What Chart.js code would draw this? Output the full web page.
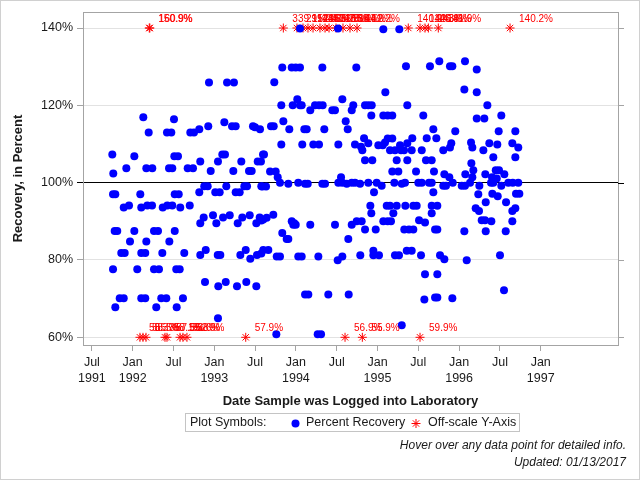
<!DOCTYPE html>
<html>
<head>
<meta charset="utf-8">
<script src="https://cdn.jsdelivr.net/npm/chart.js@4/dist/chart.umd.min.js"></script>
<style>
  html, body { margin: 0; padding: 0; background: #fff; }
  #c { display: block; }
</style>
</head>
<body>
<canvas id="c" width="640" height="480"></canvas>
<script>
// ---- Data (dates as decimal years, recovery in percent) ----
const sampleDates = [
  1992.935,1993.156,1993.241,1992.130,1992.506,1992.196,1992.420,1992.473,1992.706,1992.751,
  1992.816,1992.926,1993.123,1993.217,1993.262,1993.474,1993.560,1991.750,1992.020,1991.762,
  1991.922,1992.167,1992.240,1992.445,1992.485,1992.674,1992.739,1992.510,1992.555,1992.828,
  1992.956,1993.045,1993.098,1993.131,1993.233,1993.331,1993.425,1993.458,1993.532,1993.572,
  1993.597,1991.759,1991.787,1992.093,1992.515,1992.564,1992.816,1992.877,1992.919,1993.012,
  1993.066,1993.147,1993.262,1993.311,1993.368,1993.401,1993.576,1991.890,1991.955,1992.105,
  1992.179,1992.237,1992.368,1992.424,1992.485,1992.583,1992.699,1992.870,1992.984,1993.107,
  1993.189,1993.343,1993.434,1993.556,1992.828,1993.025,1993.287,1993.515,1993.576,1991.779,
  1991.811,1992.020,1992.261,1992.310,1992.515,1991.967,1992.167,1992.449,1991.860,1991.902,
  1992.105,1992.154,1992.363,1992.632,1992.828,1992.895,1993.042,1993.074,1993.319,1993.385,
  1993.441,1993.523,1993.576,1991.759,1992.056,1992.261,1992.322,1992.534,1992.576,1992.886,
  1993.049,1993.140,1993.278,1993.392,1993.515,1991.841,1991.890,1992.105,1992.154,1992.350,
  1992.412,1992.616,1991.787,1992.289,1992.539,1993.045,
  1993.833,1993.949,1993.998,1994.050,1994.324,1994.740,1995.349,1995.643,1993.735,1995.096,
  1994.017,1993.821,1993.961,1994.050,1994.071,1994.234,1994.283,1994.328,1994.176,1994.446,
  1994.479,1994.569,1994.703,1994.684,1994.847,1994.887,1994.929,1995.365,1994.924,1995.071,
  1995.125,1995.181,1995.561,1993.846,1994.610,1994.635,1993.499,1993.695,1993.728,1993.919,
  1994.103,1994.132,1994.348,1995.684,1993.821,1994.078,1994.213,1994.283,1994.520,1994.724,
  1994.835,1994.887,1994.798,1994.814,1995.010,1995.064,1995.092,1995.125,1995.181,1995.153,
  1995.214,1995.276,1995.288,1995.325,1995.365,1995.426,1995.419,1995.542,1995.603,1993.609,
  1994.847,1994.936,1995.235,1995.365,1995.594,1995.664,1993.683,1993.752,1993.777,1995.181,
  1995.255,1995.472,1995.692,1993.588,1993.634,1993.805,1993.907,1994.029,1994.112,1994.145,
  1994.324,1994.357,1994.553,1994.520,1994.569,1994.623,1994.684,1994.724,1994.786,1994.887,
  1994.990,1995.051,1994.957,1995.206,1995.297,1995.337,1995.500,1995.542,1995.631,1995.664,
  1995.684,1994.912,1995.113,1995.153,1995.235,1995.341,1995.439,1995.480,1995.664,1994.924,
  1995.194,1995.664,1993.723,1993.642,1993.600,1993.949,1993.980,1993.998,1993.968,1994.176,
  1994.479,1994.684,1994.745,1994.806,1994.847,1994.978,1995.071,1995.125,1995.165,1995.328,
  1995.386,1995.439,1995.509,1995.582,1995.705,1993.833,1993.887,1993.907,1994.642,1993.662,
  1993.600,1993.765,1993.805,1994.029,1994.071,1994.275,1994.512,1994.569,1994.789,1994.949,
  1994.949,1995.018,1995.214,1995.263,1995.358,1995.419,1995.533,1995.582,1994.112,1994.152,
  1994.397,1994.647,1995.574,1995.705,1993.760,1994.267,1994.308,1995.297,
  1995.757,1996.072,1995.888,1995.917,1996.216,1996.064,1996.216,1996.346,1996.517,1996.216,
  1996.309,1995.953,1996.485,1996.689,1995.721,1995.904,1995.888,1995.806,1996.146,1996.162,
  1996.297,1996.370,1996.468,1996.652,1996.725,1996.419,1996.689,1996.150,1995.819,1995.880,
  1995.922,1996.076,1996.174,1996.162,1996.321,1996.449,1996.489,1996.403,1996.461,1996.554,
  1995.806,1995.839,1996.032,1996.072,1996.134,1996.248,1996.391,1996.419,1996.517,1996.603,
  1996.657,1996.725,1996.235,1996.407,1996.473,1996.697,1996.738,1995.733,1996.326,1996.575,
  1996.203,1996.244,1996.652,1996.689,1996.277,1996.317,1996.395,1996.652,1995.733,1996.064,
  1996.326,1996.571,1995.766,1995.819,1996.093,1996.501,1995.733,1996.550,1995.733,1995.917,
  1994.050,1994.516,1995.071,1995.267
];
const recoveryPct = [
  125.9,125.9,125.9,116.9,116.4,113.0,113.0,113.0,113.0,113.0,
  113.8,114.6,115.6,114.6,114.6,114.6,113.8,107.3,106.8,102.4,
  103.7,103.7,103.7,103.7,103.7,103.7,103.7,106.8,106.8,105.5,
  103.0,105.5,107.3,107.3,103.0,105.5,103.0,103.0,105.5,105.5,
  107.3,97.0,97.0,97.0,97.0,97.0,97.5,99.1,99.1,97.5,
  97.5,99.1,97.5,97.5,99.1,99.1,99.1,93.6,94.1,93.6,
  94.1,94.1,93.6,94.1,94.1,93.6,94.1,91.0,91.6,91.0,
  91.6,91.0,91.6,91.0,89.5,89.5,89.5,89.5,90.2,87.5,
  87.5,87.5,87.5,87.5,87.5,84.8,84.8,84.8,81.8,81.8,
  81.8,81.8,81.8,81.8,81.3,82.6,81.3,81.3,81.3,82.6,
  80.3,81.3,81.7,77.6,77.6,77.6,77.6,77.6,77.6,74.3,
  73.2,74.3,73.2,74.3,73.2,70.1,70.1,70.1,70.1,70.1,
  70.1,70.1,67.8,67.8,67.8,64.9,
  129.8,129.8,129.8,129.8,129.8,129.8,130.1,130.1,126.0,123.4,
  121.6,120.0,120.0,120.0,120.0,120.0,120.0,120.0,118.7,118.7,
  118.7,121.6,120.0,118.7,120.0,120.0,120.0,120.0,117.4,117.4,
  117.4,117.4,117.4,115.9,115.9,113.8,114.3,114.6,114.6,113.8,
  113.8,113.8,113.8,113.8,109.9,109.9,109.9,109.9,109.9,109.9,
  111.5,110.2,109.3,108.4,109.7,109.7,110.4,111.4,111.4,108.4,
  108.4,109.7,108.4,108.4,110.2,111.5,108.4,108.4,111.5,107.3,
  105.8,105.8,105.8,105.8,105.8,105.8,102.9,102.9,101.4,102.9,
  102.9,102.9,102.9,99.0,99.0,100.0,99.7,100.0,99.7,99.7,
  99.7,99.7,101.4,100.0,100.0,99.7,100.0,100.0,99.7,100.0,
  100.0,99.2,97.5,100.0,99.7,100.0,100.0,100.0,100.0,100.0,
  97.5,94.0,94.0,94.0,94.0,94.0,94.0,94.0,94.0,92.1,
  92.1,92.1,91.7,90.9,90.5,90.0,89.5,89.1,89.1,89.1,
  89.1,89.1,90.0,90.0,87.9,87.9,90.0,90.0,90.0,87.9,
  87.9,87.9,90.3,89.7,87.9,87.0,85.4,85.4,85.4,82.6,
  82.6,80.9,80.9,80.9,80.9,80.9,79.9,80.9,81.2,82.4,
  81.2,81.2,81.2,81.2,82.4,82.4,81.2,76.3,71.1,71.1,
  71.1,71.1,69.8,70.3,60.8,60.8,60.8,63.1,
  131.4,131.4,130.1,130.1,129.3,124.1,123.4,120.0,117.4,116.6,
  116.6,113.3,113.3,113.3,111.5,110.2,109.1,108.4,110.4,109.1,
  108.4,110.2,109.9,110.2,109.1,106.6,106.6,105.0,102.2,101.4,
  100.0,102.2,103.2,101.4,102.2,103.2,103.2,101.4,101.1,102.2,
  99.2,99.2,99.2,99.2,100.0,99.2,100.0,100.0,99.2,100.0,
  100.0,100.0,97.0,97.1,96.5,97.1,97.1,94.0,94.9,94.9,
  93.4,92.7,92.7,93.4,90.3,90.3,90.0,90.0,87.9,87.4,
  87.4,87.4,81.2,80.2,79.9,81.2,76.3,72.2,70.3,70.1,
  139.9,139.9,139.7,139.7
];
// Off-scale samples (plotted at the axis limits, labelled with their true value)
const highDates  = [1992.203,1992.210,1993.846,1994.013,1994.087,1994.148,1994.210,1994.295,1994.357,1994.406,
                    1994.491,1994.577,1994.663,1994.749,1995.377,1995.521,1995.582,1995.623,1995.745,1996.624];
const highValues = [150.9,160.9,339.1,291.0,152.4,148.7,145.5,163.2,171.8,147.3,
                    155.6,158.1,144.9,152.2,140.9,142.3,146.8,143.9,141.9,140.2];
const lowDates   = [1992.089,1992.126,1992.163,1992.396,1992.420,1992.580,1992.616,1992.665,1993.385,1994.602,1994.814,1995.521];
const lowValues  = [58.3,58.5,55.3,58.1,57.5,55.8,53.6,52.9,57.9,56.9,55.9,59.9];
const highPlotAt = 140;
const lowPlotAt = 60;

// Axis ticks
const xTickValues = [1991.5,1992,1992.5,1993,1993.5,1994,1994.5,1995,1995.5,1996,1996.5,1997];
const xTickLabels = [['Jul','1991'],['Jan','1992'],['Jul',''],['Jan','1993'],['Jul',''],['Jan','1994'],
                     ['Jul',''],['Jan','1995'],['Jul',''],['Jan','1996'],['Jul',''],['Jan','1997']];
const yTickValues = [60,80,100,120,140];

const FONT = 'Arial, "Liberation Sans", Helvetica, sans-serif';
const TXT = '#1a1a1a';
const FRAME = '#a4a4a4';

const recoveryPoints = sampleDates.map((d, i) => ({x: d, y: recoveryPct[i]}));
const highPoints = highDates.map(d => ({x: d, y: highPlotAt}));
const lowPoints = lowDates.map(d => ({x: d, y: lowPlotAt}));

const framePlugin = {
  id: 'frame',
  beforeDatasetsDraw(chart) {
    const {ctx, chartArea: a, scales} = chart;
    ctx.save();
    ctx.strokeStyle = FRAME;
    ctx.lineWidth = 1;
    ctx.strokeRect(Math.round(a.left) + 0.5, Math.round(a.top) + 0.5,
                   Math.round(a.right - a.left), Math.round(a.bottom - a.top));
    // right side tick marks
    yTickValues.forEach(v => {
      const y = Math.round(scales.y.getPixelForValue(v)) + 0.5;
      ctx.strokeStyle = v === 100 ? '#000' : FRAME;
      ctx.beginPath();
      ctx.moveTo(Math.round(a.right), y);
      ctx.lineTo(Math.round(a.right) + 6, y);
      ctx.stroke();
    });
    ctx.restore();
  }
};

const offscaleLabels = {
  id: 'offscaleLabels',
  afterDatasetsDraw(chart) {
    const ctx = chart.ctx;
    ctx.save();
    ctx.fillStyle = '#ff0000';
    ctx.font = '10px ' + FONT;
    ctx.textAlign = 'left';
    ctx.textBaseline = 'alphabetic';
    [[1, highValues], [2, lowValues]].forEach(([di, vals]) => {
      chart.getDatasetMeta(di).data.forEach((pt, i) => {
        ctx.fillText(vals[i].toFixed(1) + '%', pt.x + 9, pt.y - 6);
      });
    });
    ctx.restore();
  }
};

function drawAsterisk(ctx, x, y, r) {
  ctx.beginPath();
  for (let k = 0; k < 4; k++) {
    const ang = k * Math.PI / 4;
    ctx.moveTo(x - r * Math.sin(ang), y - r * Math.cos(ang));
    ctx.lineTo(x + r * Math.sin(ang), y + r * Math.cos(ang));
  }
  ctx.stroke();
}

const footerPlugin = {
  id: 'footer',
  afterDraw(chart) {
    const ctx = chart.ctx;
    ctx.save();
    // outer border of the image
    ctx.strokeStyle = '#d0d0d0';
    ctx.lineWidth = 1;
    ctx.strokeRect(0.5, 0.5, 639, 479);
    // legend box
    ctx.strokeStyle = '#c4c4c4';
    ctx.strokeRect(185.5, 413.5, 334, 18);
    ctx.font = '12.5px ' + FONT;
    ctx.fillStyle = TXT;
    ctx.textBaseline = 'middle';
    ctx.textAlign = 'left';
    ctx.fillText('Plot Symbols:', 190, 423);
    ctx.fillStyle = '#0000ff';
    ctx.beginPath();
    ctx.arc(295.5, 423.5, 4, 0, Math.PI * 2);
    ctx.fill();
    ctx.fillStyle = TXT;
    ctx.fillText('Percent Recovery', 306, 423);
    ctx.strokeStyle = '#ff0000';
    drawAsterisk(ctx, 416, 423.5, 4.5);
    ctx.fillStyle = TXT;
    ctx.fillText('Off-scale Y-Axis', 428, 423);
    // footnotes
    ctx.font = 'italic 12px ' + FONT;
    ctx.textAlign = 'right';
    ctx.fillText('Hover over any data point for detailed info.', 626, 446);
    ctx.fillText('Updated: 01/13/2017', 626, 463);
    ctx.restore();
  }
};

new Chart(document.getElementById('c'), {
  type: 'scatter',
  data: {
    datasets: [
      {
        label: 'Percent Recovery',
        data: recoveryPoints,
        pointRadius: 4,
        pointHoverRadius: 5,
        backgroundColor: '#0000ff',
        borderColor: '#0000ff',
        borderWidth: 0
      },
      {
        label: 'Off-scale Y-Axis (high)',
        data: highPoints,
        pointStyle: 'star',
        pointRadius: 4.5,
        borderColor: '#ff0000',
        backgroundColor: '#ff0000',
        borderWidth: 1
      },
      {
        label: 'Off-scale Y-Axis (low)',
        data: lowPoints,
        pointStyle: 'star',
        pointRadius: 4.5,
        borderColor: '#ff0000',
        backgroundColor: '#ff0000',
        borderWidth: 1
      }
    ]
  },
  options: {
    responsive: false,
    animation: false,
    devicePixelRatio: 1,
    layout: { padding: { top: 12, right: 22, bottom: 60, left: 0 } },
    plugins: {
      legend: { display: false },
      tooltip: { enabled: true }
    },
    scales: {
      x: {
        type: 'linear',
        min: 1991.391,
        max: 1997.947,
        afterBuildTicks: s => { s.ticks = xTickValues.map(v => ({ value: v })); },
        afterFit: s => { s.height = 75; },
        ticks: {
          autoSkip: false,
          maxRotation: 0,
          padding: 4,
          color: TXT,
          font: { family: FONT, size: 12.5, lineHeight: 1.28 },
          callback: (v, i) => xTickLabels[i]
        },
        grid: {
          drawOnChartArea: false,
          drawTicks: true,
          tickLength: 6,
          color: FRAME,
          tickColor: FRAME
        },
        border: { display: false },
        title: {
          display: true,
          text: 'Date Sample was Logged into Laboratory',
          color: TXT,
          font: { family: FONT, size: 13, weight: 'bold' },
          padding: { top: 0, bottom: 11 }
        }
      },
      y: {
        type: 'linear',
        min: 58.01,
        max: 144.14,
        afterBuildTicks: s => { s.ticks = yTickValues.map(v => ({ value: v })); },
        afterFit: s => { s.width = 83; },
        ticks: {
          padding: 4,
          color: TXT,
          font: { family: FONT, size: 12.5 },
          callback: v => v + '%'
        },
        grid: {
          drawTicks: true,
          tickLength: 6,
          color: c => (c.tick && c.tick.value === 100) ? '#000000' : '#e2e2e2',
          tickColor: c => (c.tick && c.tick.value === 100) ? '#000000' : FRAME
        },
        border: { display: false },
        title: {
          display: true,
          text: 'Recovery, in Percent',
          color: TXT,
          font: { family: FONT, size: 13, weight: 'bold' },
          padding: { top: 10.7, bottom: 0 }
        }
      }
    }
  },
  plugins: [framePlugin, offscaleLabels, footerPlugin]
});
</script>
</body>
</html>
